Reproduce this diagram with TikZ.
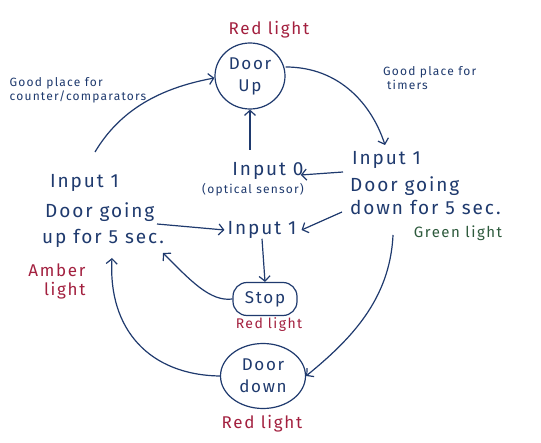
\documentclass[tikz,border=0pt]{standalone}
\usepackage{fontspec}
\setmainfont{Fira Sans}[LetterSpace=10]
\usetikzlibrary{arrows.meta,shapes.geometric}
\definecolor{ink}{HTML}{1F3A6E}
\definecolor{redink}{HTML}{A3203F}
\definecolor{greenink}{HTML}{2D5A3C}
\begin{document}
\begin{tikzpicture}[x=1pt,y=-1pt,
  statenode/.style={draw=ink, ellipse, line width=1.2pt, text=ink, align=center,
    font=\fontsize{17}{22}\selectfont, inner sep=0pt},
  lbl/.style={text=ink, font=\fontsize{19}{22}\selectfont, inner sep=0pt, anchor=west},
  note/.style={text=ink, font=\fontsize{12}{14}\selectfont, align=left, inner sep=0pt},
  redlbl/.style={text=redink, font=\fontsize{17}{19}\selectfont, inner sep=0pt},
  conn/.style={draw=ink, line width=1.2pt, -{Straight Barb[length=5pt,width=11pt,line width=1.2pt]}}
]
\useasboundingbox[fill=white] (0,0) rectangle (541,443);

% states
\node[statenode, minimum width=70pt, minimum height=66pt] (up) at (250,76) {Door\\Up};
\node[statenode, minimum width=85pt, minimum height=65pt] (down) at (263,376) {Door\\down};
\node[draw=ink, line width=1.2pt, rounded corners=14pt, minimum width=64pt, minimum height=33pt,
      text=ink, font=\fontsize{17}{20}\selectfont, inner sep=0pt] (stop) at (265,299) {Stop};

% red labels
\node[redlbl] (redup) at (269,30) {Red light};
\node[redlbl, font=\fontsize{14}{16}\selectfont] (redstop) at (269,325) {Red light};
\node[redlbl] (reddown) at (262,424) {Red light};
\node[redlbl, align=right] (amber) at (57,281) {Amber\\light};
\node[text=greenink, font=\fontsize{15}{17}\selectfont, inner sep=0pt] (green) at (458,233) {Green light};

% notes
\node[note] (noteL) at (78,90) {Good place for\\counter/comparators};
\node[note, anchor=west] (noteR) at (383,78) {Good place for\\\hspace*{4pt}timers};

% centre texts
\node[lbl, anchor=center] (in0) at (268,171) {Input 0};
\node[note, anchor=center] (optic) at (253,190) {(optical sensor)};
\node[lbl, anchor=center] (mid) at (262,230) {Input 1};

% right state
\node[lbl] (r1) at (352,160) {Input 1};
\node[lbl] (r2) at (350,186) {Door going};
\node[lbl] (r3) at (350,207) {down for 5 sec.};

% left state
\node[lbl] (l1) at (50,183) {Input 1};
\node[lbl] (l2) at (45,212) {Door going};
\node[lbl] (l3) at (42,238) {up for 5 sec.};

% connectors
\coordinate (lt) at (95,152);
\draw[conn] (lt) .. controls (120,110) and (160,88) .. (up.west |- 0,78);
\draw[conn] (up.east |- 0,67) .. controls (340,67) and (372,105) .. (385,145);
\coordinate (in0top) at (250,150);
\draw[conn] (in0top) -- (up.south);
\draw[conn] (343,172) -- ([xshift=-3pt]in0.east |- 0,175);
\draw[conn] (342,212) -- ([xshift=5pt]mid.east);
\draw[conn] (157,224) -- ([xshift=-3pt]mid.west);
\draw[conn] (mid.south) -- (stop.north);
\draw[conn] (stop.west) .. controls (210,302) and (190,280) .. (163,253);
\draw[conn] (393,235) .. controls (390,300) and (350,340) .. (down.east);
\draw[conn] (down.west) .. controls (150,375) and (108,330) .. (112,258);
\end{tikzpicture}
\end{document}
